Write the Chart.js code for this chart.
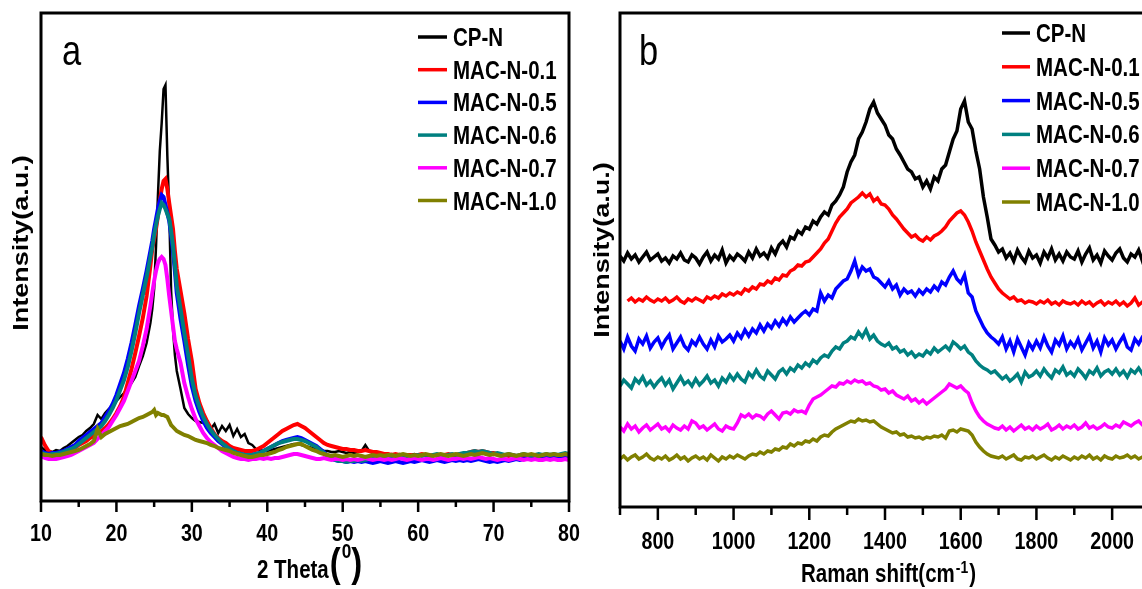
<!DOCTYPE html>
<html>
<head>
<meta charset="utf-8">
<script src="https://cdn.jsdelivr.net/npm/chart.js@4.4.1/dist/chart.umd.min.js"></script>
<style>
  html, body { margin: 0; padding: 0; background: #fff; overflow: hidden; }
  body { width: 1142px; height: 589px; position: relative; }
  #xrdChart { position: absolute; left: 0; top: 0; }
  #ramanChart { position: absolute; left: 590px; top: 0; }
</style>
</head>
<body>
<canvas id="xrdChart" width="590" height="589"></canvas>
<canvas id="ramanChart" width="600" height="589"></canvas>
<script>
// Sample names and line colours, same for both panels
const SAMPLES = ['CP-N', 'MAC-N-0.1', 'MAC-N-0.5', 'MAC-N-0.6', 'MAC-N-0.7', 'MAC-N-1.0'];
const COLORS = ['#000000', '#ff0000', '#0000ff', '#008080', '#ff00ff', '#808000'];

// ---- (a) XRD patterns ----
const twoTheta = [
  10, 10.5, 11, 11.5, 12, 12.5, 13, 13.5, 14, 14.5,
  15, 15.5, 16, 16.5, 17, 17.5, 18, 18.5, 19, 19.5,
  20, 20.5, 21, 21.5, 22, 22.5, 23, 23.5, 24, 24.5,
  24.75, 25, 25.25, 25.5, 25.75, 26, 26.25, 26.5, 26.75, 27,
  27.25, 27.5, 27.75, 28, 28.5, 29, 29.5, 30, 30.5, 31,
  31.5, 32, 32.5, 33, 33.5, 34, 34.5, 35, 35.5, 36,
  36.5, 37, 37.5, 38, 38.5, 39, 39.5, 40, 40.5, 41,
  41.5, 42, 42.5, 43, 43.5, 44, 44.5, 45, 45.5, 46,
  46.5, 47, 47.5, 48, 48.5, 49, 49.5, 50, 50.5, 51,
  51.5, 52, 52.5, 53, 53.5, 54, 54.5, 55, 55.5, 56,
  56.5, 57, 57.5, 58, 58.5, 59, 59.5, 60, 60.5, 61,
  61.5, 62, 62.5, 63, 63.5, 64, 64.5, 65, 65.5, 66,
  66.5, 67, 67.5, 68, 68.5, 69, 69.5, 70, 70.5, 71,
  71.5, 72, 72.5, 73, 73.5, 74, 74.5, 75, 75.5, 76,
  76.5, 77, 77.5, 78, 78.5, 79, 79.5, 80
];
const xrdCPN = [
  54, 51, 50, 49, 51, 50, 53, 55, 58, 61,
  64, 66, 70, 73, 77, 86, 82, 88, 92, 95,
  100, 104, 108, 113, 118, 124, 135, 145, 158, 178,
  192, 212, 255, 305, 350, 378, 412, 416, 345, 290,
  210, 172, 146, 130, 112, 93, 87, 83, 80, 79,
  78, 77, 72, 77, 68, 75, 70, 76, 65, 72,
  64, 67, 58, 56, 52, 51, 50, 50, 51, 52,
  53, 54, 55, 56, 57, 57, 56, 55, 54, 53,
  52, 51, 50, 50, 49, 49, 50, 49, 48, 49,
  48, 49, 50, 56, 50, 48, 48, 47, 47, 46,
  47, 46, 47, 46, 45, 46, 47, 46, 45, 46,
  46, 45, 46, 47, 46, 45, 46, 46, 45, 46,
  47, 46, 47, 48, 47, 48, 47, 46, 47, 46,
  45, 46, 46, 45, 46, 47, 46, 45, 46, 46,
  45, 46, 47, 46, 46, 45, 46, 46
];
const xrdMAC01 = [
  64, 56, 50, 48, 47, 46, 48, 49, 51, 53,
  56, 58, 60, 63, 65, 68, 70, 73, 77, 82,
  88, 95, 104, 118, 132, 148, 165, 183, 205, 235,
  252, 262, 272, 285, 300, 312, 320, 322, 312, 298,
  285, 272, 250, 232, 210, 188, 162, 140, 112, 98,
  88, 80, 73, 67, 63, 60, 58, 55, 53, 52,
  51, 50, 50, 50, 51, 53, 55, 58, 61, 64,
  67, 70, 72, 74, 76, 77, 75, 73, 70, 67,
  64, 61, 58, 56, 55, 54, 53, 52, 52, 51,
  51, 50, 50, 51, 50, 49, 49, 48, 47, 47,
  46, 47, 46, 45, 46, 46, 45, 46, 47, 46,
  45, 46, 46, 45, 46, 47, 46, 46, 47, 47,
  48, 49, 50, 49, 50, 49, 48, 48, 47, 46,
  46, 45, 46, 45, 44, 45, 44, 43, 44, 43,
  43, 44, 43, 42, 43, 42, 43, 42
];
const xrdMAC05 = [
  50, 48, 47, 48, 48, 49, 50, 52, 54, 56,
  60, 63, 66, 69, 72, 75, 78, 84, 90, 97,
  106, 117, 128, 142, 158, 176, 195, 212, 230, 250,
  260, 272, 282, 292, 300, 306, 304, 296, 288, 280,
  266, 250, 230, 208, 182, 160, 136, 115, 100, 89,
  80, 73, 68, 64, 60, 57, 54, 52, 50, 48,
  47, 46, 46, 46, 47, 48, 50, 52, 54, 56,
  58, 60, 61, 62, 63, 64, 63, 61, 59, 57,
  55, 52, 49, 45, 42, 41, 40, 40, 39, 40,
  39, 40, 39, 40, 39, 38, 39, 40, 39, 38,
  39, 40, 39, 38, 39, 40, 39, 40, 41, 40,
  39, 40, 41, 40, 39, 40, 41, 40, 41, 40,
  41, 40, 41, 42, 41, 40, 39, 40, 39, 40,
  41, 40, 41, 42, 41, 42, 43, 42, 43, 42,
  43, 44, 43, 44, 45, 44, 45, 45
];
const xrdMAC06 = [
  48, 47, 46, 47, 47, 48, 49, 51, 52, 54,
  57, 60, 63, 66, 69, 72, 75, 80, 86, 93,
  101, 111, 121, 134, 150, 168, 188, 206, 224, 244,
  254, 266, 276, 285, 292, 298, 296, 292, 287, 282,
  270, 255, 236, 215, 192, 168, 146, 122, 105, 94,
  84, 77, 71, 66, 62, 58, 55, 52, 50, 48,
  47, 46, 46, 46, 47, 48, 50, 52, 54, 56,
  58, 59, 60, 61, 62, 62, 61, 60, 58, 56,
  54, 51, 48, 45, 43, 41, 40, 40, 39, 40,
  40, 41, 40, 41, 42, 43, 44, 44, 45, 44,
  45, 44, 45, 46, 45, 44, 45, 46, 45, 46,
  45, 46, 47, 46, 45, 46, 47, 46, 47, 48,
  48, 49, 50, 49, 50, 49, 48, 47, 48, 47,
  46, 47, 46, 45, 46, 47, 46, 45, 46, 47,
  46, 47, 46, 47, 46, 47, 48, 47
];
const xrdMAC07 = [
  45, 43, 42, 42, 42, 43, 44, 45, 46, 48,
  50, 52, 54, 56, 58, 62, 66, 70, 74, 80,
  86, 93, 100, 110, 120, 130, 140, 155, 172, 195,
  208, 220, 230, 238, 242, 244, 242, 236, 222, 205,
  190, 175, 160, 152, 138, 118, 104, 92, 82, 75,
  68, 63, 59, 56, 53, 50, 48, 46, 44, 43,
  42, 42, 41, 42, 42, 43, 42, 43, 42, 43,
  43, 44, 45, 46, 47, 47, 46, 45, 44, 43,
  42, 42, 43, 42, 41, 42, 42, 41, 42, 41,
  42, 41, 42, 43, 42, 41, 42, 42, 41, 42,
  41, 42, 43, 42, 41, 42, 43, 42, 41, 42,
  42, 41, 42, 43, 42, 41, 42, 42, 43, 42,
  43, 42, 43, 44, 43, 42, 43, 42, 41, 42,
  42, 41, 42, 43, 42, 41, 42, 41, 42, 41,
  41, 42, 41, 42, 41, 41, 42, 41
];
const xrdMAC10 = [
  47, 46, 46, 45, 46, 46, 47, 48, 49, 50,
  51, 53, 55, 57, 60, 72, 64, 67, 69, 71,
  73, 75, 76, 77, 79, 81, 83, 84, 86, 88,
  89, 91, 86, 88, 87, 86, 86, 85, 84, 80,
  76, 74, 72, 70, 68, 66, 65, 63, 61, 60,
  59, 58, 56, 55, 53, 52, 51, 50, 48, 47,
  46, 45, 44, 44, 45, 46, 46, 47, 48, 49,
  51, 52, 54, 55, 56, 57, 57, 55, 53, 51,
  50, 48, 47, 46, 45, 46, 45, 44, 45, 46,
  45, 46, 45, 44, 45, 46, 45, 46, 45, 46,
  46, 45, 46, 47, 46, 45, 46, 45, 46, 47,
  46, 45, 46, 47, 46, 45, 46, 47, 46, 45,
  46, 47, 46, 47, 48, 47, 46, 47, 46, 45,
  46, 47, 46, 45, 46, 47, 46, 47, 46, 45,
  46, 47, 46, 47, 46, 46, 47, 46
];
const XRD_TICKS = [10, 20, 30, 40, 50, 60, 70, 80];
const XRD_MINOR = [15, 25, 35, 45, 55, 65, 75];

// ---- (b) Raman spectra ----
const ramanShift = [
  700, 710, 720, 730, 740, 750, 760, 770, 780, 790,
  800, 810, 820, 830, 840, 850, 860, 870, 880, 890,
  900, 910, 920, 930, 940, 950, 960, 970, 980, 990,
  1000, 1010, 1020, 1030, 1040, 1050, 1060, 1070, 1080, 1090,
  1100, 1110, 1120, 1130, 1140, 1150, 1160, 1170, 1180, 1190,
  1200, 1210, 1220, 1230, 1240, 1250, 1260, 1270, 1280, 1290,
  1300, 1310, 1320, 1330, 1340, 1350, 1360, 1370, 1380, 1390,
  1400, 1410, 1420, 1430, 1440, 1450, 1460, 1470, 1480, 1490,
  1500, 1510, 1520, 1530, 1540, 1550, 1560, 1570, 1580, 1590,
  1600, 1610, 1620, 1630, 1640, 1650, 1660, 1670, 1680, 1690,
  1700, 1710, 1720, 1730, 1740, 1750, 1760, 1770, 1780, 1790,
  1800, 1810, 1820, 1830, 1840, 1850, 1860, 1870, 1880, 1890,
  1900, 1910, 1920, 1930, 1940, 1950, 1960, 1970, 1980, 1990,
  2000, 2010, 2020, 2030, 2040, 2050, 2060, 2070, 2080, 2090
];
const ramanCPN = [
  251, 246, 254, 248, 252, 245, 250, 255, 247, 250,
  253, 246, 249, 244, 251, 248, 254, 247, 245, 252,
  249, 243, 250, 255, 246, 252, 248, 257, 244, 251,
  247, 253, 250, 246, 255, 249, 258, 251, 254, 249,
  259, 253, 262, 266, 260, 270, 268, 276, 273, 280,
  278, 286, 283, 290, 295, 292, 302, 306, 312, 320,
  335, 345, 352, 368, 375, 385, 398, 405, 394, 388,
  382, 372, 368, 358, 352, 345, 338, 335, 328, 330,
  320, 326, 318, 330, 326, 338, 342, 355, 368, 376,
  398, 406, 385, 378, 356, 338, 310, 290, 268, 262,
  255, 258, 249, 254, 246, 257, 250, 245, 256, 249,
  252, 244, 255, 249, 258, 247, 253, 246, 255, 250,
  248, 256, 245, 253, 259, 247, 252, 244, 256, 251,
  247, 254, 258, 249, 245, 253, 250, 257, 246, 252
];
const ramanMAC01 = [
  null, null, 206, 209, 205, 208, 206, 210, 207, 205,
  208, 206, 209, 205, 207, 210, 206, 204, 208, 206,
  209, 207, 205, 210, 208, 211, 209, 213, 211, 214,
  212, 215, 213, 218, 216, 220, 218, 223, 222, 226,
  224, 229, 227, 232, 231, 236, 238, 242, 241, 245,
  246, 250, 254, 258, 264, 268, 276, 284, 290, 294,
  298, 304, 307, 310, 314, 310, 313, 306, 309, 303,
  302, 298, 292, 288, 283, 278, 274, 270, 272, 268,
  266, 270, 267, 271, 273, 276, 280, 286, 290, 294,
  296, 292, 285, 276, 265, 256, 247, 238, 230, 224,
  218, 214, 211, 208, 210, 206, 207, 204, 206, 205,
  203, 206, 204, 207, 203, 205, 202, 206, 204, 203,
  205, 202, 206, 203, 205, 201, 204, 206, 202, 205,
  203, 206, 202, 205, 201, 204, 209, 202, 205, 203
];
const ramanMAC05 = [
  166, 158, 170, 161, 156, 168, 163, 171, 159, 165,
  169, 160, 167, 172, 158, 164, 170, 161, 157, 166,
  162, 170, 163, 158, 167, 160, 171, 165, 168, 172,
  166, 174, 169, 177, 171, 178, 174, 182, 176, 183,
  179, 186, 181, 188, 183, 190, 185, 189, 193, 196,
  192, 198, 196, 214, 206, 212, 209, 218, 222, 226,
  228, 236, 246, 232, 240, 236, 238, 230, 228, 224,
  220, 226, 218, 222, 212, 218, 214, 216, 211, 217,
  213, 218, 215, 221, 217, 225, 222, 230, 236, 228,
  224, 232, 214, 210, 196, 188, 180, 174, 170, 167,
  163, 170, 158, 166, 155, 168, 160, 152, 164, 158,
  166, 159, 170, 161, 155, 167, 162, 171, 158, 165,
  160, 168, 157, 164, 171, 159, 166, 155, 169, 162,
  167, 158, 165, 171, 160, 157, 168, 163, 170, 175
];
const ramanMAC06 = [
  121, 127, 123, 119, 128, 124, 130, 122, 126, 120,
  125, 129, 122, 127, 118, 124, 130, 123, 126, 121,
  128, 122, 126, 131, 124, 127, 121, 129, 125, 132,
  127, 133, 128, 125, 134, 130, 137, 131, 128, 136,
  132, 128, 135, 138, 133, 139, 136, 142, 139, 144,
  141, 147, 144, 149, 152, 150, 156, 160, 158, 164,
  166, 170, 168, 175, 170, 177, 168, 172, 166, 163,
  161, 164, 158, 160, 155, 157, 152, 155, 150, 153,
  151, 156, 153, 159, 155, 158, 161, 157, 165, 162,
  158, 161, 155, 152, 146, 142, 139, 137, 134, 136,
  132, 128, 131, 126, 129, 133, 125, 135, 130, 132,
  136, 131, 138, 133, 129, 137, 134, 140, 132, 135,
  131, 138, 134, 129, 136, 133, 139, 131, 135, 137,
  133, 138, 132, 136, 130, 137, 134, 139, 133, 136
];
const ramanMAC07 = [
  80, 76, 83, 78, 81, 75, 79, 82, 77, 80,
  83, 78, 80, 76, 82, 79, 77, 81, 78, 86,
  84, 79, 81, 77, 80, 83, 78, 76, 81, 79,
  78, 84, 92, 90, 93, 89, 92, 91, 88, 93,
  96, 92, 88, 94, 95, 93, 97, 95, 96, 94,
  102, 108, 110, 112, 115, 118, 121, 120, 124, 123,
  126, 124, 127, 125, 126, 123, 124, 121, 120, 117,
  118, 114, 116, 112, 110, 108, 111, 106, 108, 104,
  107, 103, 106, 109, 112, 115, 118, 123, 121, 119,
  121, 117, 114, 104, 96, 90, 86, 83, 81, 79,
  78, 81, 77, 80, 76, 79, 82, 78, 80, 77,
  81, 78, 80, 83, 77, 79, 82, 78, 81, 79,
  82, 78, 80, 84, 79, 81, 78, 80, 83, 80,
  79, 82, 80, 85, 83, 81, 84, 86, 82, 85
];
const ramanMAC10 = [
  48, 51, 47, 50, 52, 48, 50, 53, 49, 47,
  50, 48, 51, 47, 49, 52, 48, 50, 46, 49,
  51, 48, 50, 47, 52, 49, 46, 50, 48, 51,
  49, 52, 50, 48, 51, 53, 52, 55, 53, 56,
  55, 58, 57, 60, 59, 63, 61, 64, 63, 66,
  65, 68, 66, 70, 72, 71, 75, 78, 80, 82,
  84, 86, 85, 88, 86, 87, 85, 86, 83, 80,
  78, 76, 74, 75, 72, 73, 70, 71, 69, 70,
  68, 70, 69, 71, 70, 72, 69, 76, 77, 75,
  78, 77, 76, 72, 65, 60, 56, 53, 51, 50,
  49, 51, 48, 50, 52, 48, 47, 50, 49, 51,
  48, 50, 52, 49, 47, 50, 48, 51, 49, 47,
  50, 48, 51, 49, 52, 48, 50, 47, 51, 49,
  48, 51, 49, 50, 52, 49, 51, 48, 50, 52
];
const RAMAN_TICKS = [800, 1000, 1200, 1400, 1600, 1800, 2000];
const RAMAN_MINOR = [700, 900, 1100, 1300, 1500, 1700, 1900, 2100];

const SANS = "'Liberation Sans', Arial, sans-serif";
const SQUEEZE = 0.82;

// text drawn with a narrowed glyph width; returns the drawn width
function narrowText(ctx, text, x, y, font, align) {
  ctx.save();
  ctx.font = font;
  ctx.textAlign = align || 'left';
  ctx.textBaseline = 'alphabetic';
  ctx.translate(x, y);
  ctx.scale(SQUEEZE, 1);
  ctx.fillText(text, 0, 0);
  const w = ctx.measureText(text).width * SQUEEZE;
  ctx.restore();
  return w;
}

function buildDatasets(xs, series, widths) {
  return series.map((ys, i) => ({
    label: SAMPLES[i],
    data: xs.map((x, j) => ({ x: x, y: ys[j] })),
    borderColor: COLORS[i],
    backgroundColor: COLORS[i],
    borderWidth: widths[i],
    pointRadius: 0,
    tension: 0,
    fill: false,
    // later samples sit on top
    order: series.length - i
  }));
}

// rotated y title, squeezed across its height
function drawYTitle(ctx, cx, cy) {
  ctx.save();
  ctx.translate(cx, cy);
  ctx.scale(0.8, 1);
  ctx.rotate(-Math.PI / 2);
  ctx.font = 'bold 27px ' + SANS;
  ctx.fillStyle = '#000';
  ctx.textAlign = 'center';
  ctx.textBaseline = 'middle';
  ctx.fillText('Intensity(a.u.)', 0, 0);
  ctx.restore();
}

// frame, tick marks and labels, titles, panel letter and legend
function panelDecor(cfg) {
  return {
    id: 'panelDecor',
    afterDraw(chart) {
      const ctx = chart.ctx;
      const area = chart.chartArea;
      const xs = chart.scales.x;
      ctx.save();
      ctx.strokeStyle = '#000';
      ctx.fillStyle = '#000';

      ctx.lineWidth = 3;
      ctx.strokeRect(area.left, area.top, area.right - area.left, area.bottom - area.top);

      ctx.lineWidth = 2.5;
      ctx.beginPath();
      xs.ticks.forEach(t => {
        const px = xs.getPixelForValue(t.value);
        ctx.moveTo(px, area.bottom);
        ctx.lineTo(px, area.bottom + cfg.majorLen);
      });
      cfg.minor.forEach(v => {
        const px = xs.getPixelForValue(v);
        ctx.moveTo(px, area.bottom);
        ctx.lineTo(px, area.bottom + cfg.minorLen);
      });
      ctx.stroke();

      xs.ticks.forEach(t => {
        narrowText(ctx, String(t.value), xs.getPixelForValue(t.value),
          area.bottom + cfg.labelDrop, 'bold 24px ' + SANS, 'center');
      });

      // panel letter
      narrowText(ctx, cfg.letter, cfg.letterX, cfg.letterY, '42px ' + SANS);

      // legend
      const lg = cfg.legend;
      chart.data.datasets.forEach((ds, i) => {
        const y = lg.y0 + i * lg.dy;
        ctx.strokeStyle = ds.borderColor;
        ctx.lineWidth = 3.5;
        ctx.beginPath();
        ctx.moveTo(lg.x, y);
        ctx.lineTo(lg.x + lg.len, y);
        ctx.stroke();
        ctx.fillStyle = '#000';
        narrowText(ctx, ds.label, lg.textX, y + 9, 'bold 25px ' + SANS);
      });

      drawYTitle(ctx, cfg.yTitleX, cfg.yTitleY);
      ctx.fillStyle = '#000';
      cfg.xTitle(ctx);
      ctx.restore();
    }
  };
}

function axisOptions(min, max, ticks, height) {
  return {
    type: 'linear',
    min: min,
    max: max,
    grid: { display: false, drawTicks: false },
    border: { display: false },
    ticks: { display: false },
    afterBuildTicks: s => { s.ticks = ticks.map(v => ({ value: v })); },
    afterFit: s => { s.height = height; }
  };
}

// (a) XRD
new Chart(document.getElementById('xrdChart').getContext('2d'), {
  type: 'line',
  data: {
    datasets: buildDatasets(twoTheta,
      [xrdCPN, xrdMAC01, xrdMAC05, xrdMAC06, xrdMAC07, xrdMAC10],
      [2.5, 4, 4, 4, 4, 4])
  },
  options: {
    responsive: false,
    animation: false,
    layout: { padding: { left: 41, right: 21, top: 13, bottom: 0 } },
    plugins: { legend: { display: false }, tooltip: { enabled: false } },
    scales: {
      x: axisOptions(10, 80, XRD_TICKS, 88),
      y: { display: false, min: 0, max: 488 }
    }
  },
  plugins: [panelDecor({
    minor: XRD_MINOR, majorLen: 11, minorLen: 6, labelDrop: 40,
    letter: 'a', letterX: 62, letterY: 65,
    legend: { x: 418, len: 29, textX: 453, y0: 37, dy: 32.7 },
    yTitleX: 22, yTitleY: 243,
    xTitle(ctx) {
      let x = 257;
      x += narrowText(ctx, '2 Theta', x, 578, 'bold 25px ' + SANS) + 1;
      x += narrowText(ctx, '(', x, 577, 'bold 40px ' + SANS) + 1;
      x += narrowText(ctx, '0', x, 558, 'bold 21px ' + SANS);
      narrowText(ctx, ')', x, 577, 'bold 40px ' + SANS);
    }
  })]
});

// (b) Raman
new Chart(document.getElementById('ramanChart').getContext('2d'), {
  type: 'line',
  data: {
    datasets: buildDatasets(ramanShift,
      [ramanCPN, ramanMAC01, ramanMAC05, ramanMAC06, ramanMAC07, ramanMAC10],
      [3.5, 3.5, 3.5, 3.5, 3.5, 3.5])
  },
  options: {
    responsive: false,
    animation: false,
    layout: { padding: { left: 30, right: 40, top: 13, bottom: 0 } },
    plugins: { legend: { display: false }, tooltip: { enabled: false } },
    scales: {
      x: axisOptions(700, 2100, RAMAN_TICKS, 82),
      y: { display: false, min: 0, max: 494 }
    }
  },
  plugins: [panelDecor({
    minor: RAMAN_MINOR, majorLen: 13, minorLen: 8, labelDrop: 42,
    letter: 'b', letterX: 49, letterY: 65,
    legend: { x: 412, len: 28, textX: 446, y0: 33, dy: 33.8 },
    yTitleX: 13, yTitleY: 250,
    xTitle(ctx) {
      let x = 211;
      x += narrowText(ctx, 'Raman shift(cm', x, 582, 'bold 25px ' + SANS) + 1;
      x += narrowText(ctx, '-1', x, 573, 'bold 17px ' + SANS) + 1;
      narrowText(ctx, ')', x, 582, 'bold 25px ' + SANS);
    }
  })]
});
</script>
</body>
</html>
